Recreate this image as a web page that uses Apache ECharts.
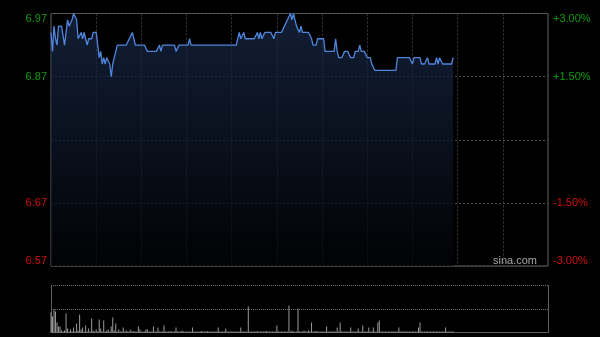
<!DOCTYPE html>
<html>
<head>
<meta charset="utf-8">
<script src="https://cdn.jsdelivr.net/npm/echarts@6/dist/echarts.min.js"></script>
<style>
html,body{margin:0;padding:0;background:#000;}
#chart{width:600px;height:337px;}
</style>
</head>
<body>
<div id="chart"></div>
<script>
// Trading sessions (HK): minute categories
var sessions = [['09:30', '12:00'], ['13:01', '16:00']];
var prevClose = 6.77;
var priceTicks = ['6.57', '6.67', '', '6.87', '6.97'];
var pctTicks = ['-3.00%', '-1.50%', '', '+1.50%', '+3.00%'];

// Per-minute last price
var price = [
  6.94,6.91,6.95,6.93,6.92,6.95,6.95,6.95,6.95,6.92,
  6.94,6.96,6.95,6.95,6.96,6.97,6.97,6.96,6.93,6.93,
  6.94,6.93,6.94,6.93,6.92,6.93,6.93,6.93,6.94,6.94,
  6.94,6.92,6.90,6.91,6.89,6.90,6.89,6.90,6.90,6.89,
  6.87,6.89,6.90,6.91,6.92,6.92,6.92,6.92,6.92,6.92,
  6.92,6.92,6.93,6.93,6.94,6.93,6.92,6.92,6.92,6.92,
  6.92,6.92,6.92,6.92,6.91,6.91,6.91,6.91,6.91,6.91,
  6.91,6.91,6.92,6.91,6.92,6.92,6.92,6.92,6.92,6.92,
  6.92,6.92,6.92,6.91,6.91,6.92,6.92,6.92,6.92,6.92,
  6.92,6.92,6.93,6.92,6.92,6.92,6.92,6.92,6.92,6.92,
  6.92,6.92,6.92,6.92,6.92,6.92,6.92,6.92,6.92,6.92,
  6.92,6.92,6.92,6.92,6.92,6.92,6.92,6.92,6.92,6.92,
  6.92,6.92,6.92,6.92,6.93,6.94,6.93,6.93,6.94,6.93,
  6.93,6.93,6.93,6.93,6.93,6.93,6.93,6.94,6.93,6.94,
  6.93,6.93,6.94,6.94,6.94,6.94,6.94,6.94,6.93,6.94,
  6.94,6.94,6.94,6.94,6.94,6.95,6.95,6.96,6.96,6.97,
  6.96,6.97,6.96,6.95,6.95,6.94,6.95,6.94,6.94,6.94,
  6.94,6.94,6.94,6.93,6.92,6.92,6.92,6.93,6.93,6.93,
  6.93,6.93,6.91,6.91,6.91,6.91,6.91,6.91,6.91,6.93,
  6.91,6.90,6.90,6.90,6.90,6.91,6.91,6.91,6.91,6.90,
  6.90,6.90,6.91,6.91,6.91,6.92,6.91,6.91,6.91,6.91,
  6.90,6.90,6.90,6.89,6.89,6.88,6.88,6.88,6.88,6.88,
  6.88,6.88,6.88,6.88,6.88,6.88,6.88,6.88,6.88,6.88,
  6.90,6.90,6.90,6.90,6.90,6.90,6.90,6.90,6.90,6.90,
  6.89,6.90,6.90,6.90,6.90,6.90,6.89,6.89,6.89,6.89,
  6.90,6.89,6.89,6.89,6.89,6.89,6.90,6.89,6.90,6.90,
  6.89,6.89,6.89,6.89,6.89,6.89,6.89,6.90
];

// Per-minute volume (relative units)
var volume = [
  20,16,23,21,10,6,6,2,1,2,
  19,4,1,3,1,5,1,9,2,18,
  3,5,1,7,1,4,1,14,2,1,
  3,1,13,4,1,12,1,2,3,1,
  6,15,2,9,1,3,1,1,5,1,
  2,1,1,3,1,1.5,1,1,6,3,
  1,1,1,3,3,1,1,1,6,1,
  1,5,1,1,1,7,1,1,1,1.5,
  1,1,1,5,1,1,1,2,1,1,
  1,1,1,1,5,1,1,1,1,1,
  1.5,1,1,1,1.5,1,1,1,1,1,
  1,5,1,1,1,1,4,1,1,1,
  1,1,1,1,1,1,5,1,1,1,
  1,26,1,1,1,1,1,1.5,1,1,
  1,1,1,1.5,1,1,1,1,1,1,
  7,1,1,1,1,1,1,1,27,1,
  2,1,1,1,24,1,1,1,2,1,
  1,2,1,10,1,1,1.5,1,1,1,
  1,1,1,6,1,1,1,1,1,1,
  5,1,10,1,1,1,1,1,1,5,
  1,1,1,1,4,1,1,7,1,1,
  1,5,1,1,5,1,1,10,12,1,
  1,1,1,1,1,1,1,1,1,1,
  1,5,1,1,1,1,1,1,1,1,
  1,1,1,1,5,10,1,1,1,1,
  1,1,1,1,1,1,1,1,1,1,
  1,1,5,1,1,1,1,1
];

function buildMinutes(sess) {
  var out = [];
  sess.forEach(function (s) {
    var a = s[0].split(':'), b = s[1].split(':');
    var t0 = (+a[0]) * 60 + (+a[1]), t1 = (+b[0]) * 60 + (+b[1]);
    for (var t = t0; t <= t1; t++) {
      var h = Math.floor(t / 60), m = t % 60;
      out.push((h < 10 ? '0' : '') + h + ':' + (m < 10 ? '0' : '') + m);
    }
  });
  return out;
}
var times = buildMinutes(sessions);

var GREEN = '#0f9a0f', RED = '#d01010';
var chart = echarts.init(document.getElementById('chart'), null, {renderer: 'canvas'});
var gridColor = '#3c3c3c';
var borderColor = '#5e5e5e';

chart.setOption({
  backgroundColor: '#000',
  animation: false,
  grid: [
    {left: 51, right: 52, top: 13.5, height: 252.5, show: true, borderColor: borderColor, borderWidth: 1, backgroundColor: 'transparent'},
    {left: 51, right: 52, top: 285.5, height: 47, show: false}
  ],
  xAxis: [
    {
      type: 'category', gridIndex: 0, data: times, boundaryGap: false,
      axisLine: {show: false}, axisTick: {show: false}, axisLabel: {show: false},
      splitLine: {show: true, interval: function (i) { return i % 30 === 0; },
        lineStyle: {color: gridColor, type: [2, 2], width: 1}}
    },
    {
      type: 'category', gridIndex: 1, data: times, boundaryGap: false,
      axisLine: {show: true, lineStyle: {color: borderColor}}, axisTick: {show: false}, axisLabel: {show: false},
      splitLine: {show: false}
    }
  ],
  yAxis: [
    {
      type: 'value', gridIndex: 0, min: 6.57, max: 6.97, interval: 0.1, position: 'left',
      axisLine: {show: false}, axisTick: {show: false},
      splitLine: {show: true, lineStyle: {color: '#4a4a4a', type: [2, 2], width: 1}},
      axisLabel: {
        fontFamily: 'Liberation Sans, Arial', fontSize: 11, margin: 4,
        verticalAlignMinLabel: 'bottom', verticalAlignMaxLabel: 'top',
        formatter: function (v, i) { return priceTicks[i]; },
        color: function (v) { return (+v) > prevClose + 1e-6 ? GREEN : RED; }
      }
    },
    {
      type: 'value', gridIndex: 0, min: -3, max: 3, interval: 1.5, position: 'right',
      axisLine: {show: false}, axisTick: {show: false}, splitLine: {show: false},
      axisLabel: {
        fontFamily: 'Liberation Sans, Arial', fontSize: 11, margin: 5,
        verticalAlignMinLabel: 'bottom', verticalAlignMaxLabel: 'top',
        formatter: function (v, i) { return pctTicks[i]; },
        color: function (v) { return (+v) > 0 ? GREEN : RED; }
      }
    },
    {
      type: 'value', gridIndex: 1, min: 0, max: 47, interval: 23.5, position: 'left',
      axisLine: {show: true, lineStyle: {color: borderColor}}, axisTick: {show: false}, axisLabel: {show: false},
      splitLine: {show: true, lineStyle: {color: '#6a6a6a', type: [1, 1], width: 1}}
    },
    {
      type: 'value', gridIndex: 1, min: 0, max: 47, interval: 23.5, position: 'right',
      axisLine: {show: true, lineStyle: {color: borderColor}}, axisTick: {show: false}, axisLabel: {show: false},
      splitLine: {show: false}
    }
  ],
  series: [
    {
      type: 'line', xAxisIndex: 0, yAxisIndex: 0, data: price, symbol: 'none',
      lineStyle: {color: '#4f86dc', width: 1.3},
      areaStyle: {
        origin: 'start',
        color: new echarts.graphic.LinearGradient(0, 0, 0, 1, [
          {offset: 0, color: '#1a2b4c'},
          {offset: 1, color: '#020306'}
        ])
      }
    },
    {
      type: 'bar', xAxisIndex: 1, yAxisIndex: 2, data: volume, barWidth: 1,
      itemStyle: {color: '#9a9a9a'}
    }
  ],
  graphic: [
    {type: 'text', right: 63, top: 255, style: {text: 'sina.com', fill: '#a8a8a8', font: '11px "Liberation Sans", Arial'}}
  ]
});
</script>
</body>
</html>
